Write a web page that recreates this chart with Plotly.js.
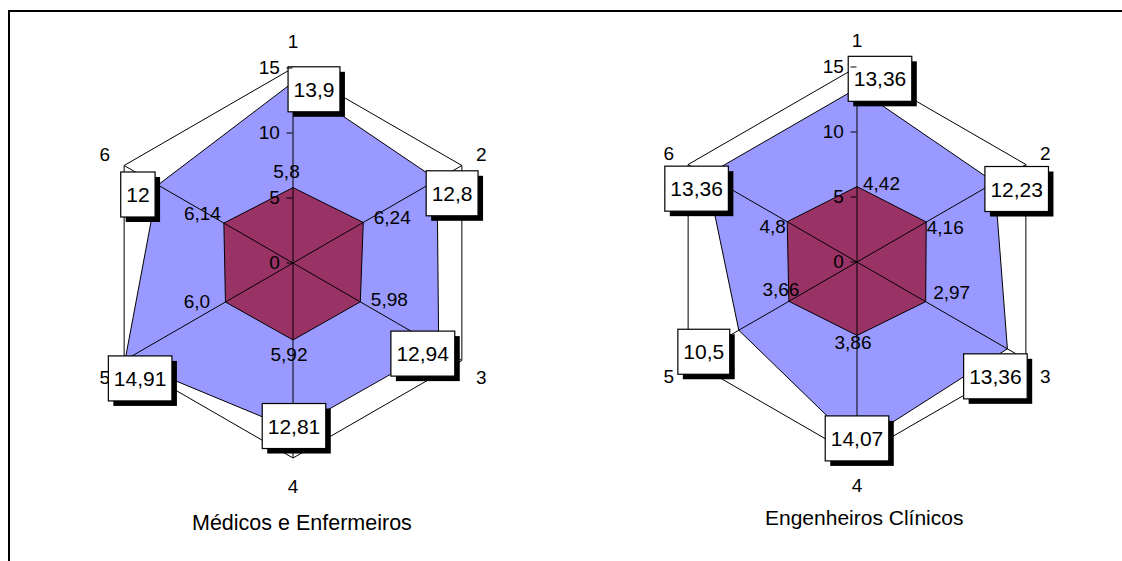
<!DOCTYPE html>
<html>
<head>
<meta charset="utf-8">
<script src="https://cdn.plot.ly/plotly-3.0.1.min.js"></script>
<style>
  html, body { margin: 0; padding: 0; background: #fff; }
  #chart { width: 1122px; height: 561px; }
</style>
</head>
<body>
<div id="chart"></div>
<script>
// ---------- data ----------
const categories = ['1', '2', '3', '4', '5', '6'];

const medOuter = [13.9, 12.8, 12.94, 12.81, 14.91, 12];
const medInner = [5.8, 6.24, 5.98, 5.92, 6.0, 6.14];
const medInnerLabels = ['5,8', '6,24', '5,98', '5,92', '6,0', '6,14'];

const engOuter = [13.36, 12.23, 13.36, 14.07, 10.5, 13.36];
const engInner = [5.8, 6.15, 6.1, 5.65, 6.05, 6.2];          // inner shape as drawn
const engInnerLabels = ['4,42', '4,16', '2,97', '3,86', '3,66', '4,8'];

const radialTicks = [0, 5, 10, 15];
const radialTickLabels = ['0', '5', '10', '15'];

const chartTitles = ['Médicos e Enfermeiros', 'Engenheiros Clínicos'];

// ---------- styles / positions ----------
const FONT = 'Liberation Sans, Arial, sans-serif';
const BLUE = '#9999FF';
const MAROON = '#993366';
const W = 1122, H = 561;
const DY = 6;   // vertical correction for text centring

// pixel offsets of labels from their anchor points
const OFFSETS = {
  boxL:   [[21, 8.5], [15, 15], [-16, 8], [1, -2], [15, 20], [-20, 11]],
  boxR:   [[23, -8], [22, 8], [-12, 29], [0, -5], [-35, 23], [-10, 15]],
  innerL: [[-6.5, -15.5], [29, -4], [29, -2], [-4, 15], [-28.5, 0], [-21.5, -9]],
  innerR: [[24.5, -2.5], [19, 6], [26, -9], [-4, 8], [-8, -11], [-14.5, 5]]
};
const BOXED = { boxL: true, boxR: true };

function fmt(v) { return String(v).replace('.', ','); }
function closed(a) { return a.concat([a[0]]); }

function spokes() {
  const r = [], t = [];
  categories.forEach(c => { r.push(0, radialTicks[radialTicks.length - 1], null); t.push(c, c, c); });
  return { r, t };
}

function chartTraces(sub, outer, inner, innerLabels, sfx) {
  const sp = spokes();
  const common = { subplot: sub, showlegend: false, hoverinfo: 'skip', cliponaxis: false };
  return [
    Object.assign({}, common, {
      type: 'scatterpolar', mode: 'lines', r: closed(outer), theta: closed(categories),
      fill: 'toself', fillcolor: BLUE, line: { color: '#000', width: 1 }
    }),
    Object.assign({}, common, {
      type: 'scatterpolar', mode: 'lines', r: closed(inner), theta: closed(categories),
      fill: 'toself', fillcolor: MAROON, line: { color: '#000', width: 1 }
    }),
    Object.assign({}, common, {
      type: 'scatterpolar', mode: 'lines', r: sp.r, theta: sp.t, connectgaps: false,
      line: { color: '#000', width: 1 }
    }),
    Object.assign({}, common, {
      type: 'scatterpolar', mode: 'text', name: 'inner' + sfx,
      r: inner, theta: categories, text: innerLabels, textposition: 'middle center',
      textfont: { family: FONT, size: 19, color: '#000' }
    }),
    Object.assign({}, common, {
      type: 'scatterpolar', mode: 'text', name: 'box' + sfx,
      r: outer, theta: categories, text: outer.map(fmt), textposition: 'middle center',
      textfont: { family: FONT, size: 21, color: '#000' }
    })
  ];
}

const traces = []
  .concat(chartTraces('polar', medOuter, medInner, medInnerLabels, 'L'))
  .concat(chartTraces('polar2', engOuter, engInner, engInnerLabels, 'R'));

function polarLayout(cx, cy, rad) {
  return {
    domain: { x: [(cx - rad) / W, (cx + rad) / W], y: [1 - (cy + rad) / H, 1 - (cy - rad) / H] },
    bgcolor: 'rgba(0,0,0,0)',
    gridshape: 'linear',
    radialaxis: {
      range: [0, 15], tickmode: 'array', tickvals: radialTicks, ticktext: radialTickLabels,
      showticklabels: true, side: 'counterclockwise',
      ticks: 'outside', ticklen: 6, tickcolor: '#000', tickwidth: 1,
      tickfont: { family: FONT, size: 19, color: '#000' },
      showline: false, showgrid: false, angle: 90, tickangle: 90, layer: 'above traces'
    },
    angularaxis: {
      type: 'category', categoryarray: categories, direction: 'clockwise', rotation: 90,
      showline: true, linecolor: '#000', linewidth: 1, showgrid: false,
      ticks: 'outside', ticklen: 12, tickcolor: 'rgba(0,0,0,0)',
      tickfont: { family: FONT, size: 19, color: '#000' }, layer: 'below traces'
    }
  };
}

const layout = {
  width: W, height: H,
  margin: { l: 0, r: 0, t: 0, b: 0 },
  paper_bgcolor: '#fff',
  font: { family: FONT, color: '#000' },
  showlegend: false,
  polar: polarLayout(293, 263, 195),
  polar2: polarLayout(857, 262, 195),
  annotations: [
    { text: chartTitles[0], xref: 'paper', yref: 'paper', x: 302 / W, y: 1 - 523 / H,
      xanchor: 'center', yanchor: 'middle', showarrow: false, font: { family: FONT, size: 21.5, color: '#000' } },
    { text: chartTitles[1], xref: 'paper', yref: 'paper', x: 864 / W, y: 1 - 517 / H,
      xanchor: 'center', yanchor: 'middle', showarrow: false, font: { family: FONT, size: 21, color: '#000' } }
  ],
  shapes: [
    { type: 'line', xref: 'paper', yref: 'paper', x0: 9 / W, x1: 9 / W, y0: 0, y1: 1 - 11 / H,
      line: { color: '#000', width: 2 } },
    { type: 'line', xref: 'paper', yref: 'paper', x0: 8 / W, x1: 1, y0: 1 - 11 / H, y1: 1 - 11 / H,
      line: { color: '#000', width: 2 } }
  ]
};

const gd = document.getElementById('chart');
const SVGNS = 'http://www.w3.org/2000/svg';

function decorate() {
  gd.querySelectorAll('g.trace').forEach(g => {
    const cd = g.__data__;
    if (!cd || !cd[0] || !cd[0].trace) return;
    const key = cd[0].trace.name;
    const offs = OFFSETS[key];
    if (!offs) return;
    g.querySelectorAll('g.textpoint').forEach((tp, i) => {
      const o = offs[i] || [0, 0];
      tp.setAttribute('transform', 'translate(' + o[0] + ',' + (o[1] + DY) + ')');
      if (BOXED[key]) {
        const t = tp.querySelector('text');
        if (!t) return;
        const bb = t.getBBox();
        const bw = bb.width + 11, bh = 45;
        const cx = bb.x + bb.width / 2, cy = bb.y + bb.height / 2;
        const x0 = cx - bw / 2, y0 = cy - bh / 2;
        const sh = document.createElementNS(SVGNS, 'rect');
        sh.setAttribute('x', x0 + 5); sh.setAttribute('y', y0 + 5);
        sh.setAttribute('width', bw); sh.setAttribute('height', bh);
        sh.setAttribute('fill', '#000');
        const bx = document.createElementNS(SVGNS, 'rect');
        bx.setAttribute('x', x0); bx.setAttribute('y', y0);
        bx.setAttribute('width', bw); bx.setAttribute('height', bh);
        bx.setAttribute('fill', '#fff'); bx.setAttribute('stroke', '#000'); bx.setAttribute('stroke-width', 1.2);
        tp.insertBefore(sh, t);
        tp.insertBefore(bx, t);
      }
    });
  });
}

Plotly.newPlot(gd, traces, layout, { staticPlot: true, displayModeBar: false }).then(decorate);
</script>
</body>
</html>
